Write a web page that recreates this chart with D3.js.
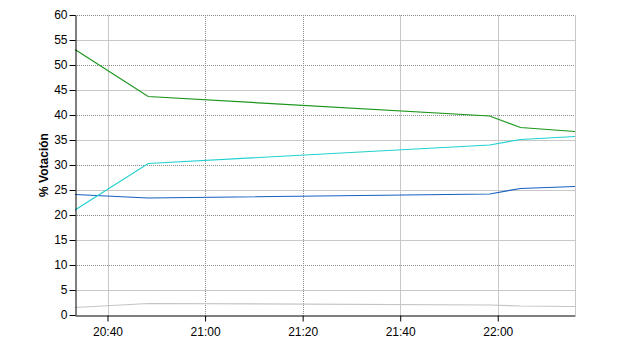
<!DOCTYPE html>
<html>
<head>
<meta charset="utf-8">
<script src="https://cdn.jsdelivr.net/npm/d3@7"></script>
<style>
	body { margin: 0; background: #fff; }
	svg { display: block; }
	text { font-family: "Liberation Sans", Arial, sans-serif; font-size: 12px; fill: #000; }
</style>
</head>
<body>
<div id="chart"></div>
<script>
const times = ['20:33:20', '20:48:20', '21:58:20', '22:04:40', '22:15:50'];
const verde = [53.1, 43.7, 39.8, 37.5, 36.7];
const cian = [21.0, 30.3, 34.0, 35.1, 35.7];
const azul = [24.1, 23.4, 24.2, 25.3, 25.7];
const gris = [1.5, 2.3, 2.0, 1.8, 1.7];
const yTicks = [0, 5, 10, 15, 20, 25, 30, 35, 40, 45, 50, 55, 60];
const xTickLabels = ['20:40', '21:00', '21:20', '21:40', '22:00'];

const width = 640;
const height = 350;
const margin = { top: 15, right: 65, bottom: 35, left: 75 };

const parse = d3.timeParse('%H:%M:%S');
const parseTick = d3.timeParse('%H:%M');
const dates = times.map(parse);
const xTicks = xTickLabels.map(parseTick);

const svg = d3.select('#chart')
	.append('svg')
	.attr('width', width)
	.attr('height', height);

const x = d3.scaleTime()
	.domain(d3.extent(dates))
	.range([margin.left, width - margin.right]);

const y = d3.scaleLinear()
	.domain([0, 60])
	.range([height - margin.bottom, margin.top]);

// horizontal grid: dotted on tens, solid on fives
svg.append('g')
	.selectAll('line')
	.data(yTicks.filter((d) => d > 0))
	.enter()
	.append('line')
	.attr('x1', margin.left)
	.attr('x2', width - margin.right)
	.attr('y1', (d) => y(d) + 0.5)
	.attr('y2', (d) => y(d) + 0.5)
	.attr('stroke', (d) => d % 10 === 0 ? '#8a8a8a' : '#c8c8c8')
	.attr('stroke-dasharray', (d) => d % 10 === 0 ? '1,1' : null);

// vertical grid (21:00 and 21:20 come out dotted in the original)
svg.append('g')
	.selectAll('line')
	.data(xTicks)
	.enter()
	.append('line')
	.attr('x1', (d) => Math.round(x(d)) + 0.5)
	.attr('x2', (d) => Math.round(x(d)) + 0.5)
	.attr('y1', margin.top)
	.attr('y2', height - margin.bottom)
	.attr('stroke', (d, i) => (i === 1 || i === 2) ? '#8a8a8a' : '#c8c8c8')
	.attr('stroke-dasharray', (d, i) => (i === 1 || i === 2) ? '1,1' : null);

// right border
svg.append('line')
	.attr('x1', width - margin.right + 0.5)
	.attr('x2', width - margin.right + 0.5)
	.attr('y1', margin.top)
	.attr('y2', height - margin.bottom)
	.attr('stroke', '#c8c8c8');

const series = [
	{ values: gris, color: '#c4c4c4' },
	{ values: azul, color: '#1660bf' },
	{ values: cian, color: '#22d0d0' },
	{ values: verde, color: '#1a961a' }
];

const line = d3.line()
	.x((d, i) => x(dates[i]))
	.y((d) => y(d));

svg.append('g')
	.selectAll('path')
	.data(series)
	.enter()
	.append('path')
	.attr('fill', 'none')
	.attr('stroke', (d) => d.color)
	.attr('stroke-width', 1.2)
	.attr('d', (d) => line(d.values));

// axes
const xAxis = svg.append('g')
	.attr('transform', `translate(0,${height - margin.bottom + 0.5})`)
	.call(
		d3.axisBottom(x)
			.tickValues(xTicks)
			.tickFormat(d3.timeFormat('%H:%M'))
			.tickSize(6)
			.tickSizeOuter(0)
	);

const yAxis = svg.append('g')
	.attr('transform', `translate(${margin.left + 0.5},0)`)
	.call(
		d3.axisLeft(y)
			.tickValues(yTicks)
			.tickSize(6)
			.tickSizeOuter(0)
	);

[xAxis, yAxis].forEach((a) => {
	a.attr('font-family', null).attr('font-size', null);
	a.select('.domain').attr('stroke', '#000');
	a.selectAll('.tick line').attr('stroke', '#000');
	a.selectAll('.tick text').attr('fill', '#000');
});
xAxis.selectAll('.tick text').attr('dy', '0.95em');
yAxis.selectAll('.tick text').attr('x', -8);

svg.append('text')
	.attr('transform', `translate(48,${(margin.top + height - margin.bottom) / 2}) rotate(-90)`)
	.attr('text-anchor', 'middle')
	.style('font-weight', 'bold')
	.text('% Votación');
</script>
</body>
</html>
